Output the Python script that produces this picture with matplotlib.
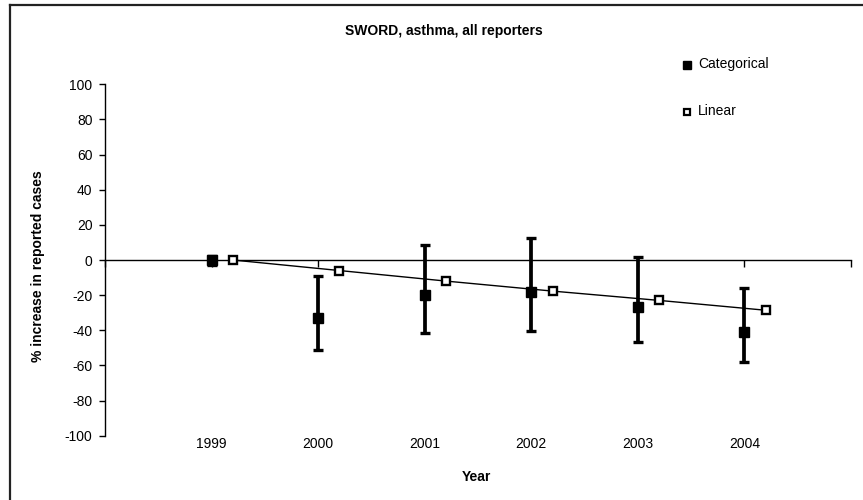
import matplotlib
matplotlib.use("Agg")
import matplotlib.pyplot as plt
from matplotlib.lines import Line2D
import numpy as np

plt.rcParams['font.family'] = ['Liberation Sans', 'DejaVu Sans']
plt.rcParams['axes.unicode_minus'] = False

years = [1999, 2000, 2001, 2002, 2003, 2004]
year_labels = ['1999', '2000', '2001', '2002', '2003', '2004']
categorical = [0, -33, -20, -18, -27, -41]
cat_low = [-3, -51.5, -41.5, -40.5, -46.5, -58]
cat_high = [2, -9, 8.5, 12.5, 1.5, -16]
linear = [0, -6, -12, -17.7, -23, -28.6]
linear_offset = 0.2

W, H = 863, 500
fig = plt.figure(figsize=(W / 100, H / 100), dpi=100)
ax = fig.add_axes([105 / W, 1 - 435.7 / H, (851 - 105) / W, (435.7 - 84.3) / H])

x = np.array(years, dtype=float)
cat = np.array(categorical)
yerr = np.vstack([cat - np.array(cat_low), np.array(cat_high) - cat])

ax.errorbar(x, cat, yerr=yerr, fmt='s', color='black', ms=7, mfc='black', mec='black',
            elinewidth=2.7, capsize=3.5, capthick=2.4, zorder=3)
ax.plot(x + linear_offset, linear, color='black', lw=1.0, marker='s', ms=5.5,
        mfc='white', mec='black', mew=1.7, zorder=4)

ax.set_xlim(1998, 2005)
ax.set_ylim(-100, 100)
ax.set_yticks(np.arange(-100, 101, 20))
ax.tick_params(axis='y', direction='out', length=4, width=1, pad=5, labelsize=10)

for s in ['top', 'right']:
    ax.spines[s].set_visible(False)
ax.spines['left'].set_linewidth(1)
ax.spines['bottom'].set_position(('data', 0))
ax.spines['bottom'].set_linewidth(1)
ax.set_xticks(np.arange(1998, 2006, 1))
ax.tick_params(axis='x', direction='out', length=5, width=1, labelbottom=False)

sec = ax.secondary_xaxis('bottom')
sec.spines['bottom'].set_visible(False)
sec.set_xticks(years)
sec.set_xticklabels(year_labels)
sec.tick_params(axis='x', length=0, pad=1, labelsize=10)

fig.text(444 / W, 1 - 31 / H, 'SWORD, asthma, all reporters', ha='center', va='center',
         fontsize=10, fontweight='bold')
fig.text(476 / W, 1 - 477 / H, 'Year', ha='center', va='center', fontsize=10, fontweight='bold')
fig.text(38 / W, 1 - 266 / H, '% increase in reported cases', ha='center', va='center',
         rotation=90, fontsize=10, fontweight='bold')

# legend
fig.add_artist(Line2D([687 / W], [1 - 65 / H], marker='s', ms=6, mfc='black', mec='black',
                      transform=fig.transFigure, linestyle='none'))
fig.text(698 / W, 1 - 64 / H, 'Categorical', ha='left', va='center', fontsize=10)
fig.add_artist(Line2D([687 / W], [1 - 112 / H], marker='s', ms=5, mfc='white', mec='black', mew=1.6,
                      transform=fig.transFigure, linestyle='none'))
fig.text(698 / W, 1 - 111 / H, 'Linear', ha='left', va='center', fontsize=10)

# outer frame (top and left only visible)
fig.add_artist(Line2D([10 / W, 1], [1 - 5 / H, 1 - 5 / H], color='#222222', lw=1.6,
                      transform=fig.transFigure))
fig.add_artist(Line2D([10 / W, 10 / W], [0, 1 - 5 / H], color='#222222', lw=1.6,
                      transform=fig.transFigure))

fig.savefig('out.png', dpi=100)
